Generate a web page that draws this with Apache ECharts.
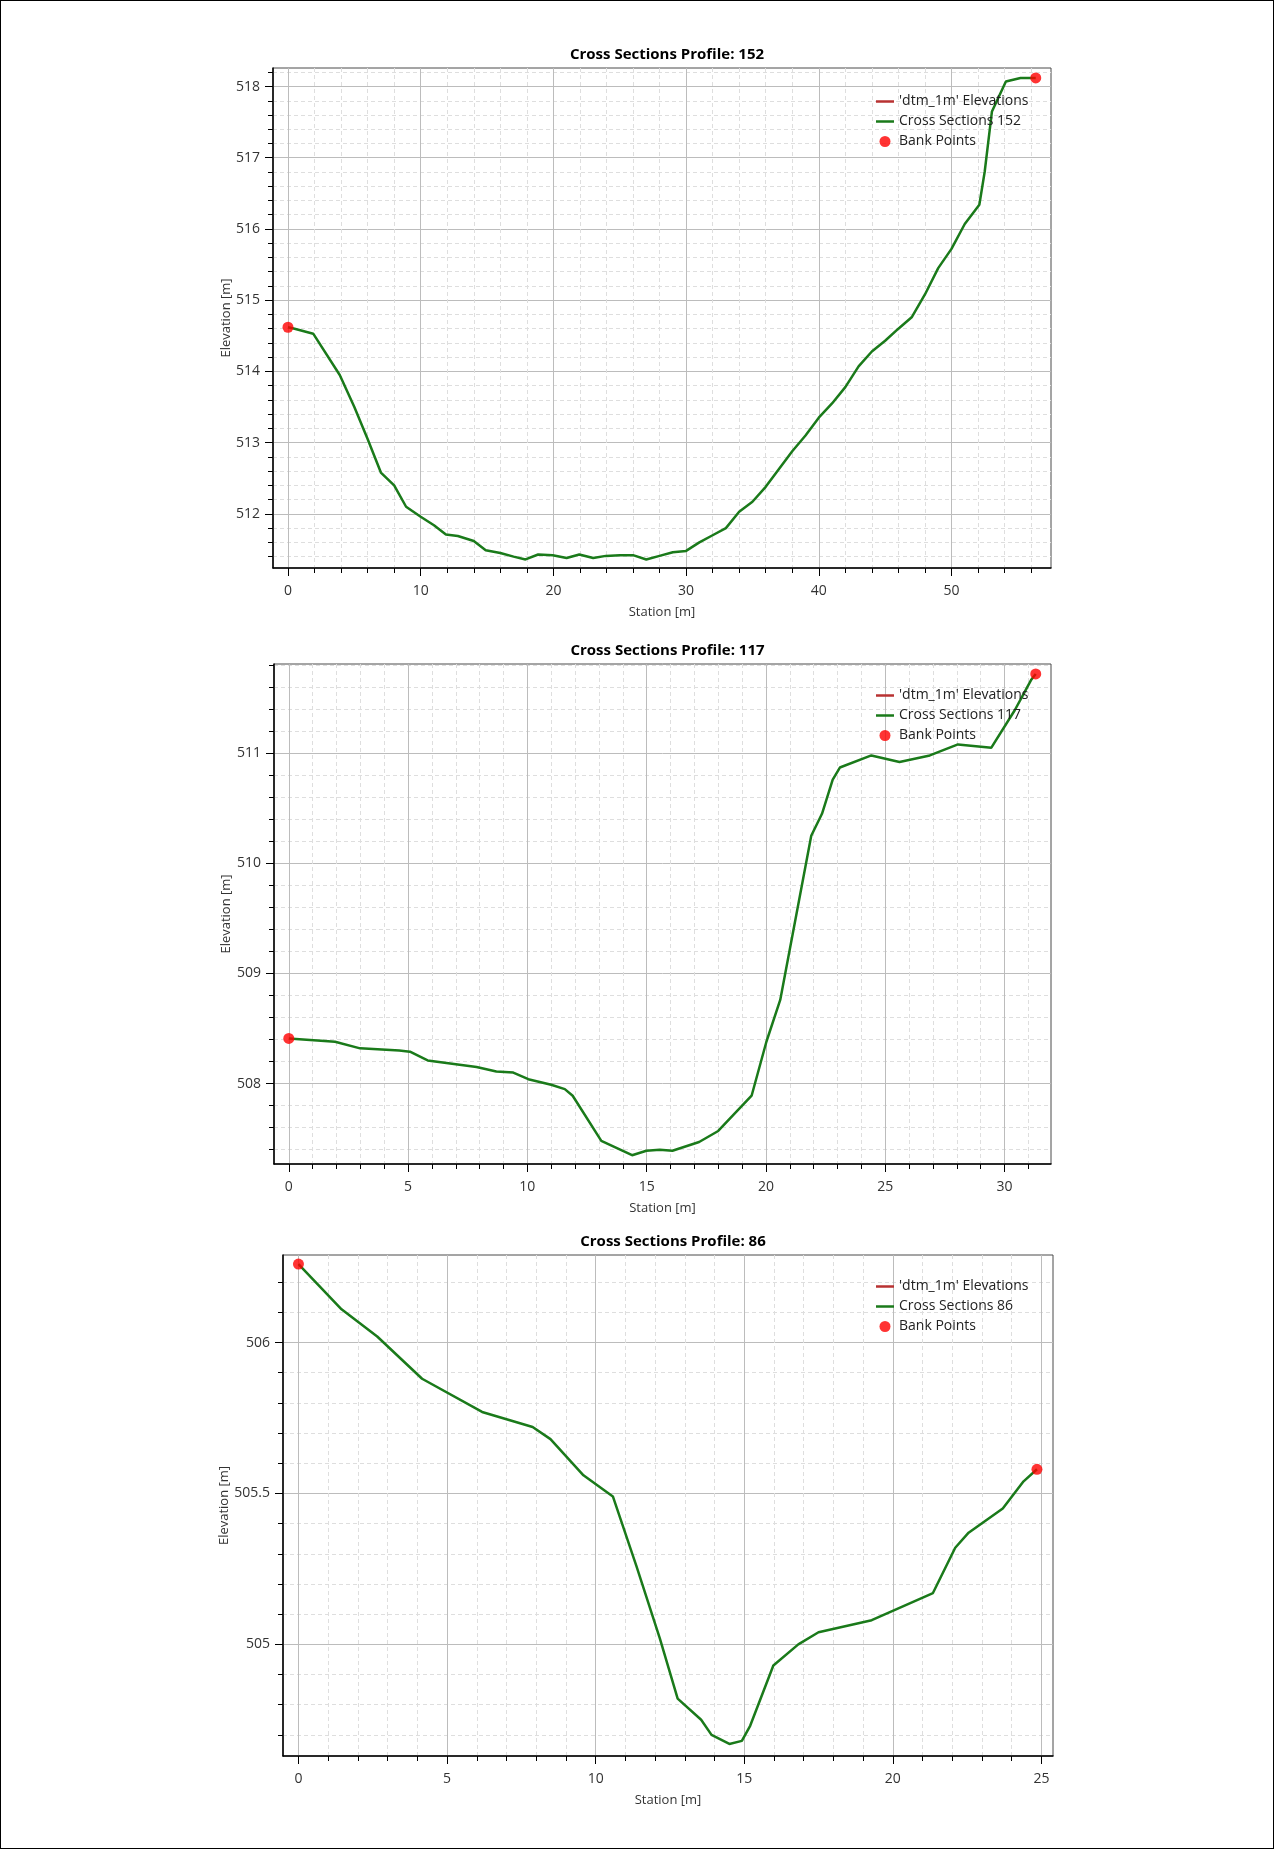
<!DOCTYPE html>
<html>
<head>
<meta charset="utf-8">
<script src="https://cdn.jsdelivr.net/npm/echarts@6/dist/echarts.min.js"></script>
<style>
  html, body { margin: 0; padding: 0; background: #fff; }
  .page { position: relative; width: 1274px; height: 1849px; }
  #chart { width: 1274px; height: 1849px; }
  .frame { position: absolute; left: 0; top: 0; right: 0; bottom: 0; border: 1px solid #000; pointer-events: none; }
</style>
</head>
<body>
<div class="page">
  <div id="chart"></div>
  <div class="frame"></div>
</div>
<script>
  // profile 152
  var station152 = [0, 0.5, 1.9, 3.9, 5, 6, 7, 8, 8.9, 10, 11, 11.9, 12.8, 14, 14.9, 16, 17, 17.9, 18.85, 19.95,
    21, 21.95, 23, 23.95, 25, 26, 27, 28, 29, 30, 31, 32, 33, 34, 35, 36, 37, 38, 39, 40,
    41, 42, 43, 44, 45, 46, 47, 48, 49, 50, 51, 52.1, 52.5, 53.05, 54.1, 55.2, 56.35];
  var elev152 = [514.62, 514.6, 514.53, 513.95, 513.5, 513.05, 512.58, 512.4, 512.1, 511.96, 511.84, 511.71, 511.69, 511.62, 511.49, 511.45, 511.4, 511.36, 511.43, 511.42,
    511.38, 511.43, 511.38, 511.41, 511.42, 511.42, 511.36, 511.41, 511.46, 511.48, 511.6, 511.7, 511.8, 512.03, 512.17, 512.38, 512.63, 512.88, 513.1, 513.35,
    513.55, 513.78, 514.07, 514.28, 514.43, 514.6, 514.76, 515.08, 515.45, 515.72, 516.07, 516.34, 516.8, 517.65, 518.07, 518.12, 518.12];
  var bankStation152 = [0, 56.35];
  var bankElev152 = [514.62, 518.12];
  var xTicks152 = [0, 10, 20, 30, 40, 50];
  var yTicks152 = [512, 513, 514, 515, 516, 517, 518];

  // profile 117
  var station117 = [0, 1.94, 2.99, 4.63, 5.08, 5.82, 7.87, 8.7, 9.41, 10.04, 11.0, 11.57, 11.9, 13.1, 14.39, 14.99, 15.55, 16.08, 17.2, 18.0,
    19.4, 20.02, 20.6, 21.9, 22.35, 22.8, 23.1, 24.42, 25.6, 26.87, 28.05, 29.45, 30.43, 30.78, 31.13, 31.31];
  var elev117 = [508.41, 508.38, 508.32, 508.30, 508.29, 508.21, 508.15, 508.11, 508.10, 508.04, 507.99, 507.95, 507.89, 507.48, 507.35, 507.39, 507.40, 507.39, 507.47, 507.57,
    507.89, 508.38, 508.76, 510.25, 510.45, 510.76, 510.87, 510.98, 510.92, 510.98, 511.08, 511.05, 511.39, 511.53, 511.67, 511.72];
  var bankStation117 = [0, 31.31];
  var bankElev117 = [508.41, 511.72];
  var xTicks117 = [0, 5, 10, 15, 20, 25, 30];
  var yTicks117 = [508, 509, 510, 511];

  // profile 86
  var station86 = [0, 1.45, 2.65, 4.16, 6.18, 7.88, 8.48, 9.59, 10.58, 11.37, 12.16, 12.76, 13.55, 13.9, 14.5, 14.92, 15.2, 15.98, 16.82, 17.5,
    19.29, 21.35, 22.1, 22.55, 23.7, 24.4, 24.85];
  var elev86 = [506.26, 506.11, 506.02, 505.88, 505.77, 505.72, 505.68, 505.56, 505.49, 505.26, 505.02, 504.82, 504.75, 504.70, 504.67, 504.68, 504.73, 504.93, 505.0, 505.04,
    505.08, 505.17, 505.32, 505.37, 505.45, 505.54, 505.58];
  var bankStation86 = [0, 24.85];
  var bankElev86 = [506.26, 505.58];
  var xTicks86 = [0, 5, 10, 15, 20, 25];
  var yTicks86 = [505, 505.5, 506];

  var FONT = 'Open Sans';
  var LINE_ICON = 'path://M0,0h18v2.5h-18z';

  function zip(a, b) {
    return a.map(function (v, i) { return [v, b[i]]; });
  }

  var panels = [
    { id: '152', st: station152, el: elev152, bs: bankStation152, be: bankElev152, xt: xTicks152, yt: yTicks152,
      xMin: -1.13, xMax: 57.5, yMin: 511.24, yMax: 518.26, ySplit: 5,
      grid: { left: 273, top: 68, width: 778, height: 500 }, legendTop: 94, yNameGap: 40 },
    { id: '117', st: station117, el: elev117, bs: bankStation117, be: bankElev117, xt: xTicks117, yt: yTicks117,
      xMin: -0.62, xMax: 31.95, yMin: 507.27, yMax: 511.81, ySplit: 5,
      grid: { left: 274, top: 664, width: 777, height: 500 }, legendTop: 688, yNameGap: 41 },
    { id: '86', st: station86, el: elev86, bs: bankStation86, be: bankElev86, xt: xTicks86, yt: yTicks86,
      xMin: -0.52, xMax: 25.39, yMin: 504.63, yMax: 506.29, ySplit: 3,
      grid: { left: 283, top: 1255, width: 770, height: 501 }, legendTop: 1279, yNameGap: 52 }
  ];

  var option = {
    animation: false,
    backgroundColor: '#fff',
    textStyle: { fontFamily: FONT },
    title: [], legend: [], grid: [], xAxis: [], yAxis: [], series: []
  };

  panels.forEach(function (p, i) {
    var g = p.grid;
    option.grid.push({
      left: g.left, top: g.top, width: g.width, height: g.height,
      show: true, borderColor: '#4a4a4a', borderWidth: 1, backgroundColor: 'transparent',
      containLabel: false, outerBoundsMode: 'none'
    });
    option.title.push({
      text: 'Cross Sections Profile: ' + p.id,
      left: g.left + g.width / 2, textAlign: 'center', top: g.top - 26,
      textStyle: { fontFamily: FONT, fontSize: 15, fontWeight: 'bold', color: '#000' }
    });
    option.legend.push({
      orient: 'vertical', left: 876, top: p.legendTop, padding: 0,
      itemWidth: 18, itemHeight: 11, itemGap: 5,
      textStyle: { fontFamily: FONT, fontSize: 14, lineHeight: 15, color: '#222' },
      data: [
        { name: "'dtm_1m' Elevations", icon: LINE_ICON },
        { name: 'Cross Sections ' + p.id, icon: LINE_ICON },
        { name: 'Bank Points', icon: 'circle' }
      ]
    });
    option.xAxis.push({
      type: 'value', gridIndex: i, min: p.xMin, max: p.xMax, splitNumber: 5,
      name: 'Station [m]', nameLocation: 'middle', nameGap: 38, nameMoveOverlap: false,
      nameTextStyle: { fontFamily: FONT, fontSize: 13, color: '#333' },
      axisLine: { show: true, onZero: false, lineStyle: { color: '#000', width: 1.5 } },
      axisTick: { show: true, length: 8, customValues: p.xt, lineStyle: { color: '#000' } },
      minorTick: { show: true, splitNumber: 5, length: 5, lineStyle: { color: '#000' } },
      axisLabel: { customValues: p.xt, margin: 16, fontFamily: FONT, fontSize: 14, color: '#333' },
      splitLine: { show: true, lineStyle: { color: '#bcbcbc', width: 1 } },
      minorSplitLine: { show: true, lineStyle: { color: '#dedede', width: 1, type: [4, 3] } }
    });
    option.yAxis.push({
      type: 'value', gridIndex: i, min: p.yMin, max: p.yMax, splitNumber: p.ySplit,
      name: 'Elevation [m]', nameLocation: 'middle', nameGap: p.yNameGap, nameMoveOverlap: false,
      nameTextStyle: { fontFamily: FONT, fontSize: 13, color: '#333' },
      axisLine: { show: true, onZero: false, lineStyle: { color: '#000', width: 1.5 } },
      axisTick: { show: true, length: 8, customValues: p.yt, lineStyle: { color: '#000' } },
      minorTick: { show: true, splitNumber: 5, length: 5, lineStyle: { color: '#000' } },
      axisLabel: { customValues: p.yt, margin: 13, fontFamily: FONT, fontSize: 14, color: '#333' },
      splitLine: { show: true, lineStyle: { color: '#bcbcbc', width: 1 } },
      minorSplitLine: { show: true, lineStyle: { color: '#dedede', width: 1, type: [4, 3] } }
    });
    option.series.push({
      name: "'dtm_1m' Elevations", type: 'line', xAxisIndex: i, yAxisIndex: i,
      data: [], symbol: 'none', color: '#b83232', lineStyle: { color: '#b83232', width: 2 }
    });
    option.series.push({
      name: 'Cross Sections ' + p.id, type: 'line', xAxisIndex: i, yAxisIndex: i,
      data: zip(p.st, p.el), symbol: 'none', color: '#1a7a1a',
      lineStyle: { color: '#1a7a1a', width: 2.5 }, z: 3
    });
    option.series.push({
      name: 'Bank Points', type: 'scatter', xAxisIndex: i, yAxisIndex: i,
      data: zip(p.bs, p.be), symbol: 'circle', symbolSize: 11,
      itemStyle: { color: '#ff0000' }, z: 4
    });
  });

  var mychart = echarts.init(document.getElementById('chart'));
  mychart.setOption(option);
</script>
</body>
</html>
